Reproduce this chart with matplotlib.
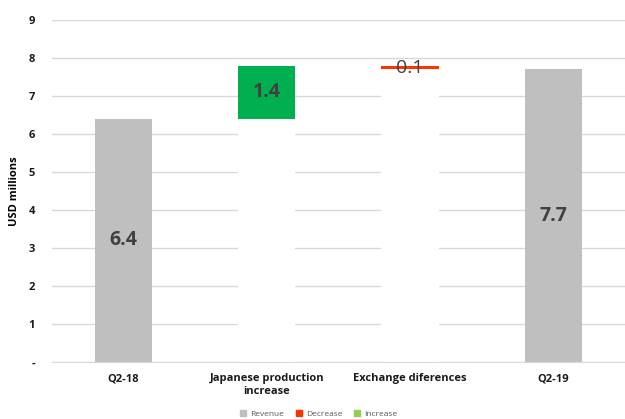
import matplotlib.pyplot as plt
from matplotlib.patches import Patch

categories = ['Q2-18', 'Japanese production\nincrease', 'Exchange diferences', 'Q2-19']
revenue = [6.4, 0, 0, 7.7]
base = [0, 6.4, 7.7, 0]
increase = [0, 1.4, 0, 0]
decrease = [0, 0, 0.1, 0]
labels = ['6.4', '1.4', '0.1', '7.7']

grey = '#bfbfbf'
red = '#ff3300'
green = '#00b050'
text_col = '#404040'

plt.rcParams['font.family'] = ['Open Sans', 'DejaVu Sans']

fig = plt.figure(figsize=(6.25, 4.19), dpi=100)
ax = fig.add_axes([0.083, 0.136, 0.917, 0.816])

x = range(len(categories))
w = 0.4
ax.bar(x, revenue, width=w, color=grey, zorder=2)
ax.bar(x, base, width=w, color='white', zorder=2)
ax.bar(x, increase, width=w, bottom=base, color=green, zorder=2)
ax.bar(x, decrease, width=w, bottom=base, color=red, zorder=2)

# value labels
ax.text(0, revenue[0] / 2, labels[0], ha='center', va='center',
        fontsize=14, fontweight='bold', color=text_col, zorder=3)
ax.text(1, base[1] + increase[1] / 2, labels[1], ha='center', va='center',
        fontsize=14, fontweight='bold', color=text_col, zorder=3)
ax.text(2, base[2] + decrease[2] / 2, labels[2], ha='center', va='center',
        fontsize=14, color=text_col, zorder=3)
ax.text(3, revenue[3] / 2, labels[3], ha='center', va='center',
        fontsize=14, fontweight='bold', color=text_col, zorder=3)

ax.set_xlim(-0.5, 3.5)
ax.set_ylim(0, 9)
ax.set_yticks(range(10))
ax.set_yticklabels(['-'] + [str(i) for i in range(1, 10)])
ax.set_xticks(list(x))
ax.set_xticklabels(categories)
ax.grid(axis='y', color='#d9d9d9', linewidth=1, zorder=0)
for s in ['top', 'right', 'left']:
    ax.spines[s].set_visible(False)
ax.spines['bottom'].set_color('#d9d9d9')
ax.tick_params(length=0)
ax.tick_params(axis='y', pad=12)
ax.tick_params(axis='x', pad=8)
for t in ax.get_xticklabels() + ax.get_yticklabels():
    t.set_fontsize(8)
    t.set_fontweight('bold')
    t.set_color('#1a1a1a')
ax.set_ylabel('USD millions', fontsize=8, fontweight='bold', labelpad=6)

handles = [Patch(color=grey, label='Revenue'),
           Patch(color=red, label='Decrease'),
           Patch(color='#92d050', label='Increase')]
leg = fig.legend(handles=handles, loc='lower center', bbox_to_anchor=(0.51, -0.015),
                 ncol=3, frameon=False, fontsize=6, handlelength=0.7,
                 handleheight=0.7, columnspacing=1.4, handletextpad=0.5)
for t in leg.get_texts():
    t.set_color('#595959')

fig.savefig('out.png', dpi=100)
